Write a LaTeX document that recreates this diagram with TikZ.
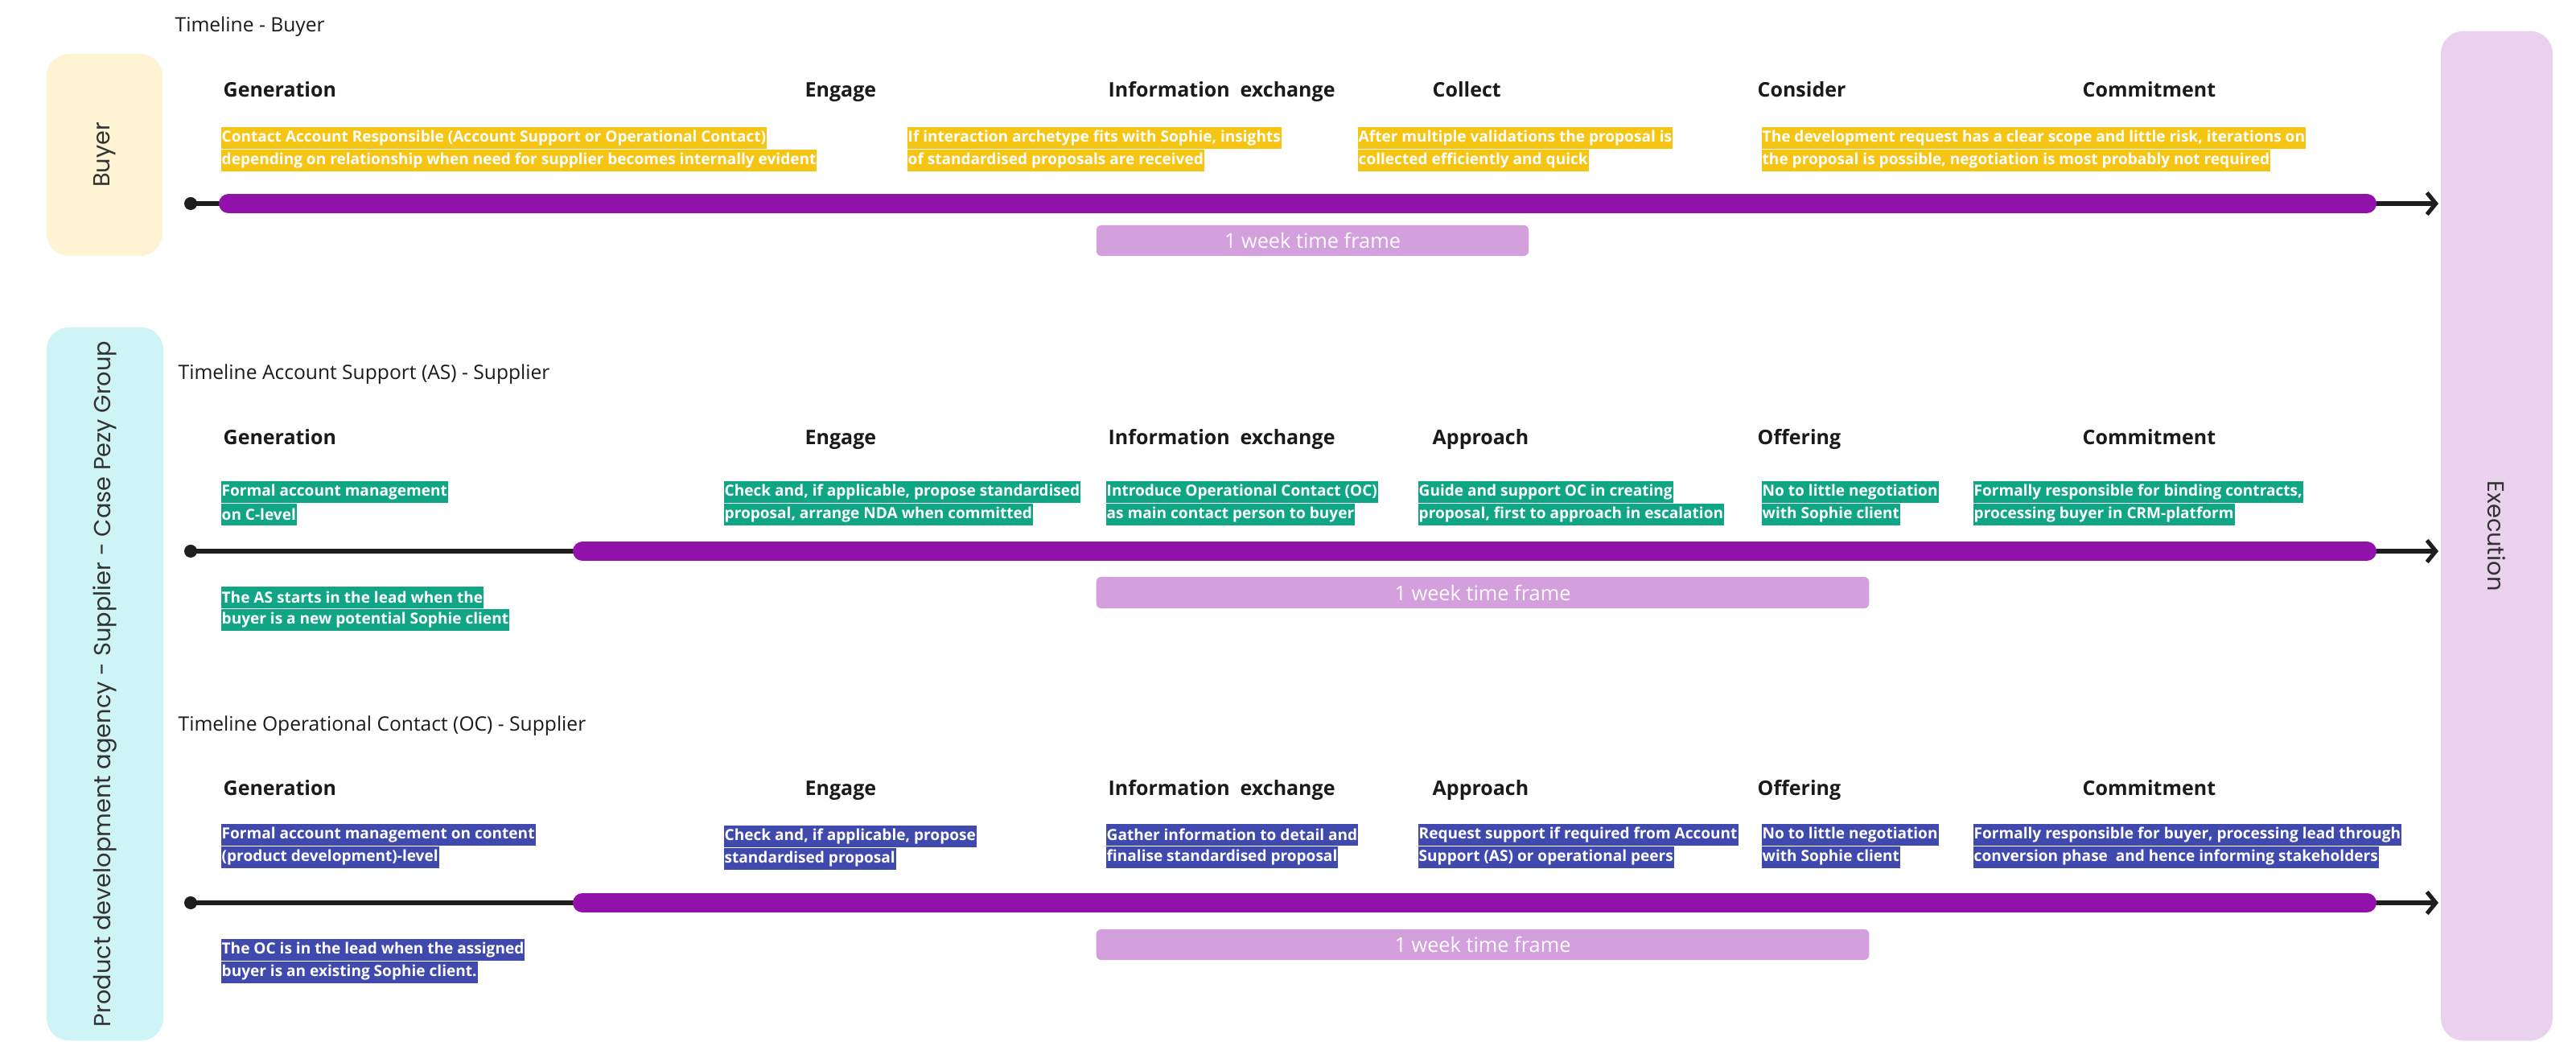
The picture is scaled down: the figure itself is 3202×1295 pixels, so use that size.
\documentclass[tikz,border=0pt]{standalone}
\usepackage{fontspec}
\setmainfont{Open Sans}
\newfontfamily\sidefont{Poppins}
\usetikzlibrary{arrows.meta}
\definecolor{buyerbg}{HTML}{FEF4D3}
\definecolor{supbg}{HTML}{CFF4F5}
\definecolor{execbg}{HTML}{EAD2EE}
\definecolor{barpurple}{HTML}{9311AB}
\definecolor{weekbg}{HTML}{D49FDD}
\definecolor{hly}{HTML}{F6C514}
\definecolor{hlg}{HTML}{10A585}
\definecolor{hlb}{HTML}{4049AD}
\definecolor{linec}{HTML}{1E1E1E}
\definecolor{txt}{HTML}{1A1A1A}
\tikzset{
  hdr/.style={anchor=base west, inner sep=0pt, text=txt, font=\bfseries\fontsize{7.1}{8.5}\selectfont},
  ttl/.style={anchor=west, inner sep=0pt, text=txt, font=\fontsize{7.0}{8.4}\selectfont},
  hl/.style={anchor=north west, text=white, inner xsep=0.01cm, inner ysep=0pt, minimum height=0.27cm, font=\bfseries\fontsize{5.42}{6.2}\selectfont},
  hly/.style={hl, fill=hly},
  hlg/.style={hl, fill=hlg},
  hlb/.style={hl, fill=hlb},
  sidebox/.style={rounded corners=0.28cm, inner sep=0pt, text=black!80, font=\sidefont\fontsize{8.2}{9.5}\selectfont},
  week/.style={fill=weekbg, rounded corners=0.06cm, inner sep=0pt, text=white, font=\fontsize{7.2}{8.5}\selectfont},
  dotnode/.style={circle, fill=linec, inner sep=0pt, minimum size=0.16cm},
  blackline/.style={draw=linec, line width=1.45pt, -{Straight Barb[length=0.11cm,width=0.27cm,line width=1.45pt]}},
  pbar/.style={draw=barpurple, line width=0.24cm, line cap=round},
}
\begin{document}
\begin{tikzpicture}[x=0.01cm,y=-0.01cm]
\useasboundingbox[fill=white] (0,0) rectangle (3202,1295);

% side boxes
\node[sidebox, fill=buyerbg, rotate=90, minimum width=2.51cm, minimum height=1.44cm] (buyer) at (130,192.5) {Buyer};
\node[sidebox, fill=supbg, rotate=90, minimum width=8.86cm, minimum height=1.45cm] (sup) at (130.5,850) {Product development agency - Supplier - Case Pezy Group};
\node[sidebox, fill=execbg, rotate=-90, minimum width=12.54cm, minimum height=1.39cm] (exec) at (3103.5,666) {Execution};

% titles
\node[ttl] (t1) at (217,33) {Timeline - Buyer};
\node[ttl] (t2) at (221,465) {Timeline Account Support (AS) - Supplier};
\node[ttl] (t3) at (221,902) {Timeline Operational Contact (OC) - Supplier};

% headers row 1
\node[hdr] (h1a) at (277,121) {Generation};
\node[hdr] (h1b) at (1000,121) {Engage};
\node[hdr] (h1c) at (1377,121) {Information\ \ exchange};
\node[hdr] (h1d) at (1780,121) {Collect};
\node[hdr] (h1e) at (2184,121) {Consider};
\node[hdr] (h1f) at (2588,121) {Commitment};
% headers row 2
\node[hdr] (h2a) at (277,553) {Generation};
\node[hdr] (h2b) at (1000,553) {Engage};
\node[hdr] (h2c) at (1377,553) {Information\ \ exchange};
\node[hdr] (h2d) at (1780,553) {Approach};
\node[hdr] (h2e) at (2184,553) {Offering};
\node[hdr] (h2f) at (2588,553) {Commitment};
% headers row 3
\node[hdr] (h3a) at (277,989) {Generation};
\node[hdr] (h3b) at (1000,989) {Engage};
\node[hdr] (h3c) at (1377,989) {Information\ \ exchange};
\node[hdr] (h3d) at (1780,989) {Approach};
\node[hdr] (h3e) at (2184,989) {Offering};
\node[hdr] (h3f) at (2588,989) {Commitment};

% yellow highlights
\node[hly] (y1a) at (274,157) {Contact Account Responsible (Account Support or Operational Contact)};
\node[hly] (y1b) at (y1a.south west) {depending on relationship when need for supplier becomes internally evident};
\node[hly] (y2a) at (1127,157) {If interaction archetype fits with Sophie, insights};
\node[hly] (y2b) at (y2a.south west) {of standardised proposals are received};
\node[hly] (y3a) at (1687,157) {After multiple validations the proposal is};
\node[hly] (y3b) at (y3a.south west) {collected efficiently and quick};
\node[hly] (y4a) at (2189,157) {The development request has a clear scope and little risk, iterations on};
\node[hly] (y4b) at (y4a.south west) {the proposal is possible, negotiation is most probably not required};

% green highlights
\node[hlg] (g1a) at (274,597) {Formal account management};
\node[hlg] (g1b) at (g1a.south west) {on C-level};
\node[hlg] (g2a) at (899,597) {Check and, if applicable, propose standardised};
\node[hlg] (g2b) at (g2a.south west) {proposal, arrange NDA when committed};
\node[hlg] (g3a) at (1374,597) {Introduce Operational Contact (OC)};
\node[hlg] (g3b) at (g3a.south west) {as main contact person to buyer};
\node[hlg] (g4a) at (1762,597) {Guide and support OC in creating};
\node[hlg] (g4b) at (g4a.south west) {proposal, first to approach in escalation};
\node[hlg] (g5a) at (2189,597) {No to little negotiation};
\node[hlg] (g5b) at (g5a.south west) {with Sophie client};
\node[hlg] (g6a) at (2452,597) {Formally responsible for binding contracts,};
\node[hlg] (g6b) at (g6a.south west) {processing buyer in CRM-platform};
\node[hlg] (g7a) at (274,728) {The AS starts in the lead when the};
\node[hlg] (g7b) at (g7a.south west) {buyer is a new potential Sophie client};

% blue highlights
\node[hlb] (c1a) at (274,1023) {Formal account management on content};
\node[hlb] (c1b) at (c1a.south west) {(product development)-level};
\node[hlb] (c2a) at (899,1025) {Check and, if applicable, propose};
\node[hlb] (c2b) at (c2a.south west) {standardised proposal};
\node[hlb] (c3a) at (1374,1023) {Gather information to detail and};
\node[hlb] (c3b) at (c3a.south west) {finalise standardised proposal};
\node[hlb] (c4a) at (1762,1023) {Request support if required from Account};
\node[hlb] (c4b) at (c4a.south west) {Support (AS) or operational peers};
\node[hlb] (c5a) at (2189,1023) {No to little negotiation};
\node[hlb] (c5b) at (c5a.south west) {with Sophie client};
\node[hlb] (c6a) at (2452,1023) {Formally responsible for buyer, processing lead through};
\node[hlb] (c6b) at (c6a.south west) {conversion phase\ \ and hence informing stakeholders};
\node[hlb] (c7a) at (274,1166) {The OC is in the lead when the assigned};
\node[hlb] (c7b) at (c7a.south west) {buyer is an existing Sophie client.};

% timelines
\node[dotnode] (d1) at (237,253) {};
\coordinate (e1) at (3031,253);
\coordinate (p1s) at (284,253);
\coordinate (p1e) at (2942,253);
\draw[blackline] (d1.center) -- (e1);
\draw[pbar] (p1s) -- (p1e);

\node[dotnode] (d2) at (237,685) {};
\coordinate (e2) at (3031,685);
\coordinate (p2s) at (724,685);
\coordinate (p2e) at (2942,685);
\draw[blackline] (d2.center) -- (e2);
\draw[pbar] (p2s) -- (p2e);

\node[dotnode] (d3) at (237,1122) {};
\coordinate (e3) at (3031,1122);
\coordinate (p3s) at (724,1122);
\coordinate (p3e) at (2942,1122);
\draw[blackline] (d3.center) -- (e3);
\draw[pbar] (p3s) -- (p3e);

% week boxes
\node[week, minimum width=5.37cm, minimum height=0.38cm] (w1) at (1631.5,299) {1 week time frame};
\node[week, minimum width=9.60cm, minimum height=0.39cm] (w2) at (1843,736.5) {1 week time frame};
\node[week, minimum width=9.60cm, minimum height=0.38cm] (w3) at (1843,1174) {1 week time frame};
\end{tikzpicture}
\end{document}
